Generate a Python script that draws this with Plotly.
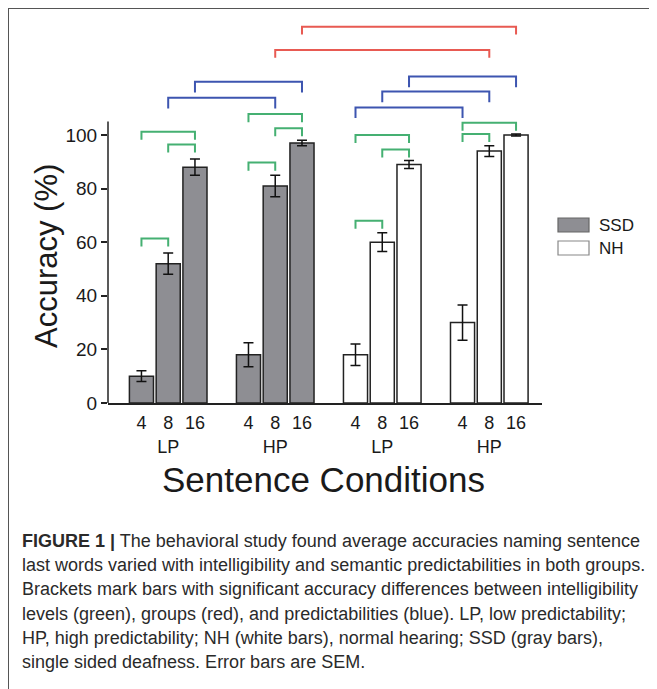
import plotly.graph_objects as go

# bar data (accuracy %, SEM), bar order: 4, 8, 16 within LP / HP
conditions = ["4", "8", "16"]
predictability = ["LP", "HP"]
ssd_acc = [10, 52, 88, 18, 81, 97]
ssd_sem = [2, 4, 3, 4.5, 4, 1]
nh_acc = [18, 60, 89, 30, 94, 100]
nh_sem = [4, 3.5, 1.5, 6.6, 2, 0.4]

# bar slots on the x axis (a one-slot gap between groups)
ssd_pos = [0, 1, 2, 4, 5, 6]
nh_pos = [8, 9, 10, 12, 13, 14]

# significance brackets: (left slot, right slot, height)
green_brackets = [(0, 1, 61.4), (1, 2, 96.5), (0, 2, 101.2),
                  (4, 5, 89.7), (5, 6, 102.5), (4, 6, 107.8),
                  (8, 9, 68), (9, 10, 94.6), (8, 10, 100),
                  (12, 13, 100.4), (12, 14, 104.6)]
blue_brackets = [(1, 5, 113.9), (2, 6, 119.9),
                 (8, 12, 110.3), (9, 13, 116.2), (10, 14, 121.8)]
red_brackets = [(5, 13, 131.7), (6, 14, 140.4)]

caption_lines = [
    "<b>FIGURE 1 |</b> The behavioral study found average accuracies naming sentence",
    "last words varied with intelligibility and semantic predictabilities in both groups.",
    "Brackets mark bars with significant accuracy differences between intelligibility",
    "levels (green), groups (red), and predictabilities (blue). LP, low predictability;",
    "HP, high predictability; NH (white bars), normal hearing; SSD (gray bars),",
    "single sided deafness. Error bars are SEM.",
]

# page geometry, in screen pixels; the page body adds an 8px offset
OFF = 8
W, H = 657 - OFF, 689 - OFF
PL, PR, PT, PB = 108, 542, 20, 403
PX_PER_UNIT = 2.68
FONT = "Liberation Sans, Arial, sans-serif"


def px(x):
    return (x - PL) / (PR - PL)


def py(y):
    return (PB - y) / (PB - PT)


fig = go.Figure()

fig.add_trace(go.Bar(
    x=ssd_pos, y=ssd_acc, width=0.9, name="SSD",
    marker=dict(color="#8e8e93", line=dict(color="#222", width=1.5)),
    error_y=dict(type="data", array=ssd_sem, color="#111", thickness=1.5, width=5),
    showlegend=False,
))
fig.add_trace(go.Bar(
    x=nh_pos, y=nh_acc, width=0.9, name="NH",
    marker=dict(color="white", line=dict(color="#222", width=1.5)),
    error_y=dict(type="data", array=nh_sem, color="#111", thickness=1.5, width=5),
    showlegend=False,
))


def add_brackets(brackets, color, drop):
    for left, right, h in brackets:
        fig.add_trace(go.Scatter(
            x=[left, left, right, right], y=[h - drop, h, h, h - drop],
            mode="lines", line=dict(color=color, width=2),
            hoverinfo="skip", showlegend=False, cliponaxis=False,
        ))


add_brackets(green_brackets, "#45b072", 3)
add_brackets(blue_brackets, "#3d55b0", 4)
add_brackets(red_brackets, "#e85a52", 2.9)

tickvals = ssd_pos + nh_pos
ticktext = []
for _ in range(2):
    for p in predictability:
        ticktext += [conditions[0], conditions[1] + "<br>" + p, conditions[2]]

fig.update_layout(
    width=W, height=H,
    margin=dict(l=PL - OFF, r=W - (PR - OFF), t=PT - OFF, b=H - (PB - OFF), autoexpand=False),
    paper_bgcolor="white", plot_bgcolor="white",
    font=dict(family=FONT, color="#1a1a1a"),
    barmode="overlay",
    xaxis=dict(
        range=[-1.25, 14.97], tickvals=tickvals, ticktext=ticktext,
        showline=True, linecolor="#222", linewidth=1.5,
        ticks="", showgrid=False, zeroline=False, ticklabelstandoff=3,
        tickfont=dict(size=18, family=FONT, color="#1a1a1a"),
    ),
    yaxis=dict(
        range=[0, (PB - PT) / PX_PER_UNIT], tickvals=[0, 20, 40, 60, 80, 100],
        ticks="outside", ticklen=6, tickwidth=1.5, tickcolor="#222",
        showline=False, showgrid=False, zeroline=False,
        tickfont=dict(size=19, family=FONT, color="#1a1a1a"),
    ),
)

shapes = [
    # y axis line, stops just above 100
    dict(type="line", xref="paper", yref="y", x0=0, x1=0, y0=0, y1=105,
         line=dict(color="#222", width=1.5)),
    # figure frame (top and left edges)
    dict(type="line", xref="paper", yref="paper", x0=px(8), x1=px(W + OFF + 5),
         y0=py(8), y1=py(8), line=dict(color="#555", width=2)),
    dict(type="line", xref="paper", yref="paper", x0=px(8), x1=px(8),
         y0=py(8), y1=py(H + OFF + 5), line=dict(color="#555", width=2)),
    # legend swatches
    dict(type="rect", xref="paper", yref="paper", x0=px(558), x1=px(589),
         y0=py(218), y1=py(232), fillcolor="#8e8e93", line=dict(color="#666", width=1.2)),
    dict(type="rect", xref="paper", yref="paper", x0=px(558), x1=px(589),
         y0=py(241), y1=py(255), fillcolor="white", line=dict(color="#888", width=1.2)),
]

annotations = [
    dict(text="SSD", x=px(597), y=py(225), xanchor="left", yanchor="middle"),
    dict(text="NH", x=px(597), y=py(248), xanchor="left", yanchor="middle"),
]
for a in annotations:
    a.update(xref="paper", yref="paper", showarrow=False, font=dict(size=17, family=FONT))

annotations.append(dict(
    text="Accuracy (%)", textangle=-90, xref="paper", yref="paper",
    x=px(46), y=py(256), xanchor="center", yanchor="middle", showarrow=False,
    font=dict(size=31, family=FONT, color="#1a1a1a"),
))
annotations.append(dict(
    text="Sentence Conditions", xref="paper", yref="paper",
    x=px(323), y=py(479), xanchor="center", yanchor="middle", showarrow=False,
    font=dict(size=35, family=FONT, color="#1a1a1a"),
))

for i, line in enumerate(caption_lines):
    annotations.append(dict(
        text=line, xref="paper", yref="paper",
        x=px(20), y=py(541 + i * 24.2), xanchor="left", yanchor="middle",
        showarrow=False, align="left",
        font=dict(size=18, family=FONT, color="#2a2a2a"),
    ))

fig.update_layout(shapes=shapes, annotations=annotations)

fig.write_html("out.html")
